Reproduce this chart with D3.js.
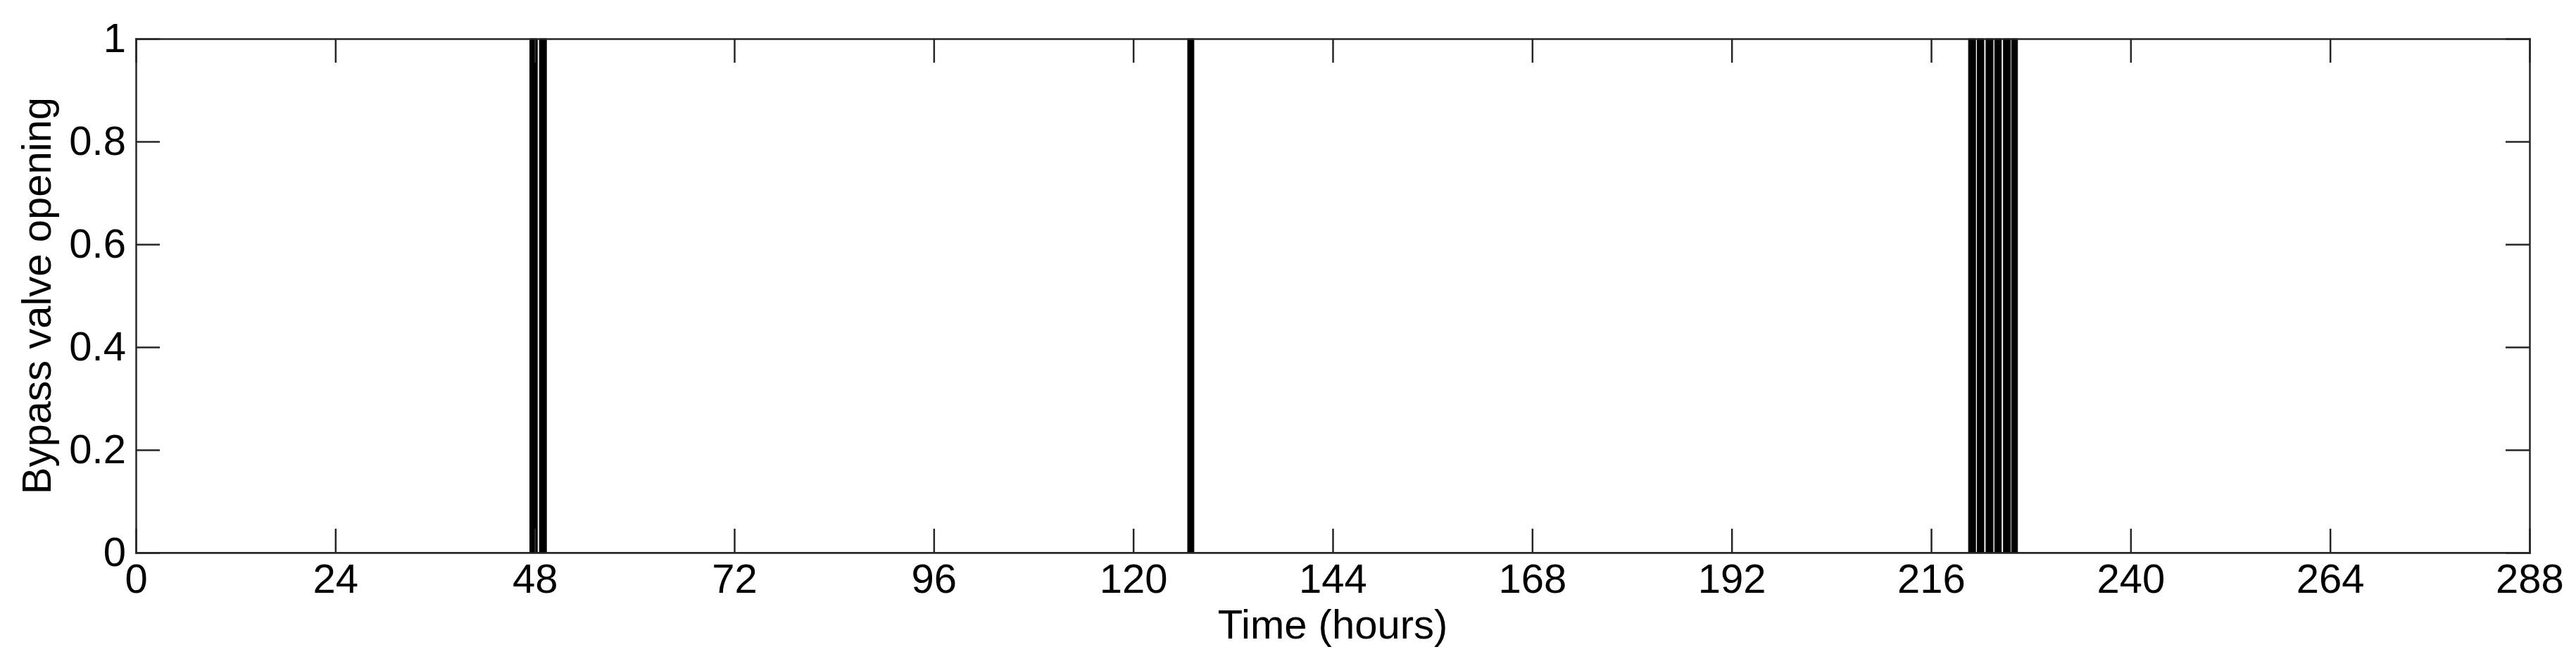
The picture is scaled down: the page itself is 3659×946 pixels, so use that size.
<!DOCTYPE html>
<html>
<head>
<meta charset="utf-8">
<title>bypass valve</title>
<style>
	body { margin: 0; background: #fff; }
	svg text { font-family: "Liberation Sans", Arial, sans-serif; fill: #000; }
	.axis path, .axis line { stroke: #262626; stroke-width: 2.5; fill: none; }
	.valve-area { fill: #000; stroke: #000; stroke-width: 1; }
</style>
<script src="https://d3js.org/d3.v7.min.js"></script>
</head>
<body>
<svg id="chart" width="3659" height="946"></svg>
<script>
// step series: time (hours) where the valve changes, and opening from that time on
const stepTimes = [0, 47.4, 48.3, 48.55, 49.4, 126.55, 127.3,
	220.5, 221.35, 221.55, 222.35, 222.6, 223.45, 223.65, 224.45,
	224.7, 225.55, 225.7, 226.4, 288];
const stepOpening = [0, 1, 0, 1, 0, 1, 0,
	1, 0, 1, 0, 1, 0, 1, 0,
	1, 0, 1, 0, 0];
const xTicks = [0, 24, 48, 72, 96, 120, 144, 168, 192, 216, 240, 264, 288];
const yTicks = [0, 0.2, 0.4, 0.6, 0.8, 1];

const m = { left: 193, right: 3593, top: 55, bottom: 785 };
const tickLen = 34;
const fontSize = 58;

const svg = d3.select('#chart');
const x = d3.scaleLinear().domain([0, 288]).range([m.left, m.right]);
const y = d3.scaleLinear().domain([0, 1]).range([m.bottom, m.top]);

const data = stepTimes.map((t, i) => ({ t: t, v: stepOpening[i] }));

// data
svg.append('path')
	.datum(data)
	.attr('class', 'valve-area')
	.attr('d', d3.area()
		.x(d => x(d.t))
		.y0(y(0))
		.y1(d => y(d.v))
		.curve(d3.curveStepAfter));

// axes box with inward ticks on all sides
const fmtY = d => d3.format('~g')(d);

svg.append('g').attr('class', 'axis')
	.attr('transform', `translate(0,${m.bottom})`)
	.call(d3.axisBottom(x).tickValues(xTicks).tickSizeInner(-tickLen).tickSizeOuter(0).tickPadding(15))
	.call(g => g.selectAll('text').attr('font-size', fontSize).attr('dy', '0.72em'));

svg.append('g').attr('class', 'axis')
	.attr('transform', `translate(0,${m.top})`)
	.call(d3.axisTop(x).tickValues(xTicks).tickSizeInner(-tickLen).tickSizeOuter(0).tickFormat(''));

svg.append('g').attr('class', 'axis')
	.attr('transform', `translate(${m.left},0)`)
	.call(d3.axisLeft(y).tickValues(yTicks).tickSizeInner(-tickLen).tickSizeOuter(0).tickPadding(14).tickFormat(fmtY))
	.call(g => g.selectAll('text').attr('font-size', fontSize));

svg.append('g').attr('class', 'axis')
	.attr('transform', `translate(${m.right},0)`)
	.call(d3.axisRight(y).tickValues(yTicks).tickSizeInner(-tickLen).tickSizeOuter(0).tickFormat(''));

svg.selectAll('.axis .domain').attr('stroke-linecap', 'square');

// labels
svg.append('text')
	.attr('x', (m.left + m.right) / 2)
	.attr('y', 907)
	.attr('text-anchor', 'middle')
	.attr('font-size', fontSize)
	.text('Time (hours)');

svg.append('text')
	.attr('transform', `translate(72,${(m.top + m.bottom) / 2}) rotate(-90)`)
	.attr('text-anchor', 'middle')
	.attr('font-size', fontSize)
	.text('Bypass valve opening');
</script>
</body>
</html>
